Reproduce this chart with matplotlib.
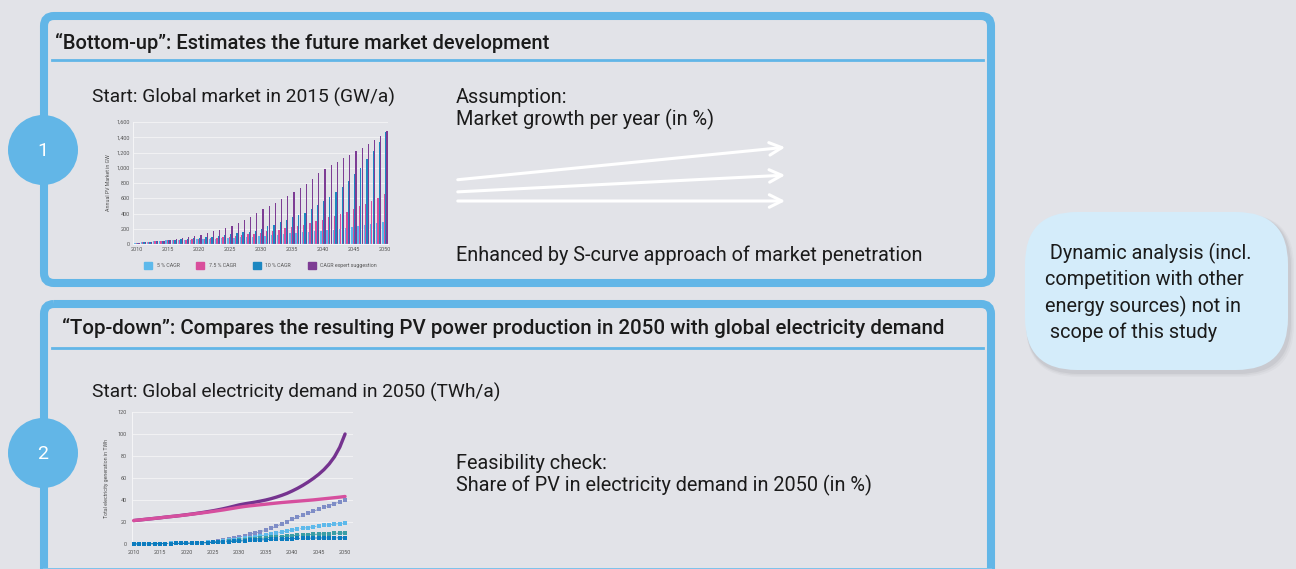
import numpy as np
import matplotlib
matplotlib.use("Agg")
import matplotlib.pyplot as plt
from matplotlib.patches import FancyBboxPatch, Circle, Patch

plt.rcParams['font.family'] = ['Roboto', 'DejaVu Sans']

# ---- data: bottom-up bar chart (annual PV market, GW) ----
years = list(range(2010, 2051))
cagr_5 = [17, 30, 30, 38, 45, 50, 51, 53, 55, 58, 60, 63, 66, 70, 74, 78, 82, 87, 92, 98,
          104, 110, 118, 124, 130, 138, 145, 152, 160, 168, 175, 182, 190, 200, 212, 222,
          238, 248, 260, 275, 292]
cagr_75 = [17, 30, 30, 38, 45, 50, 52, 55, 58, 62, 66, 70, 76, 82, 88, 95, 105, 115, 125, 135,
           150, 165, 175, 190, 205, 225, 240, 255, 280, 300, 320, 350, 370, 400, 425, 455,
           495, 530, 570, 607, 650]
cagr_10 = [17, 30, 30, 38, 45, 50, 55, 60, 66, 73, 80, 88, 97, 107, 118, 128, 140, 152, 162, 171,
           201, 236, 254, 293, 315, 350, 381, 412, 460, 512, 569, 622, 683, 749, 832, 915,
           1003, 1112, 1222, 1340, 1472]
cagr_expert = [17, 30, 30, 38, 45, 50, 60, 75, 90, 105, 120, 140, 165, 185, 210, 240, 270, 310,
               355, 410, 460, 500, 540, 585, 630, 680, 735, 790, 855, 925, 990, 1040, 1080,
               1125, 1170, 1215, 1260, 1306, 1360, 1418, 1478]
bar_series = ["5 % CAGR", "7.5 % CAGR", "10 % CAGR", "CAGR expert suggestion"]

# ---- data: top-down line chart (TWh) ----
demand_pink = [21.3, 21.8, 22.3, 22.8, 23.3, 23.8, 24.4, 24.9, 25.4, 25.9,
               26.5, 27.1, 27.7, 28.3, 28.9, 29.6, 30.3, 31.0, 31.8, 32.6,
               33.4, 34.1, 34.7, 35.2, 35.7, 36.2, 36.7, 37.2, 37.7, 38.1,
               38.5, 38.9, 39.3, 39.7, 40.1, 40.6, 41.1, 41.6, 42.1, 42.6, 43.2]
demand_purple = [21.3, 21.8, 22.3, 22.8, 23.3, 23.8, 24.4, 24.9, 25.4, 26.0,
                 26.6, 27.2, 27.9, 28.6, 29.4, 30.2, 31.1, 32.1, 33.2, 34.4,
                 35.6, 36.5, 37.3, 38.1, 39.0, 40.0, 41.2, 42.6, 44.2, 46.0,
                 48.2, 50.6, 53.3, 56.3, 59.6, 63.3, 67.6, 72.8, 79.3, 88.0, 100.0]
pv_lavender = [0.1, 0.1, 0.2, 0.2, 0.3, 0.3, 0.4, 0.5, 0.6, 0.7,
               0.8, 0.9, 1.1, 1.3, 1.6, 2.0, 2.6, 3.3, 4.1, 5.1,
               6.3, 7.5, 8.8, 10.0, 11.3, 12.6, 14.3, 16.2, 18.2, 20.3,
               22.4, 24.3, 26.1, 27.9, 29.8, 31.6, 33.3, 35.0, 36.7, 38.4, 40.1]
pv_lightblue = [0.1, 0.1, 0.2, 0.2, 0.3, 0.3, 0.4, 0.5, 0.5, 0.6,
                0.7, 0.8, 1.0, 1.2, 1.5, 1.8, 2.2, 2.7, 3.2, 3.7,
                4.3, 5.1, 5.9, 6.6, 7.4, 8.2, 9.2, 10.1, 11.0, 11.9,
                12.8, 13.6, 14.3, 15.0, 15.7, 16.4, 17.0, 17.6, 18.1, 18.6, 19.1]
pv_teal = [0.1, 0.1, 0.2, 0.2, 0.3, 0.3, 0.4, 0.4, 0.5, 0.6,
           0.7, 0.8, 0.9, 1.1, 1.3, 1.6, 1.9, 2.2, 2.5, 2.8,
           3.2, 3.7, 4.2, 4.6, 5.1, 5.5, 6.0, 6.4, 6.8, 7.1,
           7.5, 7.8, 8.1, 8.4, 8.7, 9.0, 9.3, 9.5, 9.7, 9.9, 10.1]
pv_darkblue = [0.1, 0.1, 0.2, 0.2, 0.3, 0.3, 0.4, 0.4, 0.5, 0.5,
               0.6, 0.7, 0.8, 1.0, 1.2, 1.4, 1.6, 1.8, 2.0, 2.3,
               2.6, 2.9, 3.2, 3.5, 3.7, 3.9, 4.2, 4.4, 4.6, 4.8,
               5.0, 5.1, 5.2, 5.3, 5.4, 5.5, 5.5, 5.6, 5.6, 5.6, 5.6]

# ---- texts ----
header1 = "\u201cBottom-up\u201d: Estimates the future market development"
header2 = "\u201cTop-down\u201d: Compares the resulting PV power production in 2050 with global electricity demand"
callout_lines = [" Dynamic analysis (incl.", "competition with other", "energy sources) not in", " scope of this study"]

BG = "#E2E3E8"
BLUE = "#62B6E7"
TXT = "#1B1B1B"
W, H = 1296, 569
FS = 14.3

fig = plt.figure(figsize=(W / 100, H / 100), dpi=100)
fig.patch.set_facecolor(BG)

# full-figure canvas in pixel coordinates
cv = fig.add_axes([0, 0, 1, 1])
cv.set_xlim(0, W)
cv.set_ylim(H, 0)
cv.axis("off")
cv.set_facecolor(BG)

def px2fig(x0, y0, x1, y1):
    return [x0 / W, 1 - y1 / H, (x1 - x0) / W, (y1 - y0) / H]

# two framed boxes (second one runs off the bottom edge)
for (y0, y1) in [(16, 283), (304, 620)]:
    cv.add_patch(FancyBboxPatch((44, y0), 947, y1 - y0, boxstyle="round,pad=0,rounding_size=10",
                                fc="none", ec=BLUE, lw=5.8, zorder=2))
cv.plot([44, 991], [568.6, 568.6], color="#7DC3EC", lw=1.4, zorder=2)
# header lines + texts
cv.plot([52, 983], [60, 60], color=BLUE, lw=2, zorder=3)
cv.plot([52, 983], [348, 348], color=BLUE, lw=2, zorder=3)
cv.text(55, 43, header1, fontsize=14.5, fontweight="medium", color=TXT, va="center", ha="left")
cv.text(62, 328, header2, fontsize=14.8, fontweight="medium", color=TXT, va="center", ha="left")

# step circles
for cy, lab in [(150, "1"), (453, "2")]:
    cv.add_patch(Circle((43, cy), 35, fc=BLUE, ec="none", zorder=4))
    cv.text(43, cy + 1, lab, fontsize=14, color="white", ha="center", va="center", zorder=5)

# texts inside boxes
cv.text(92, 97, "Start: Global market in 2015 (GW/a)", fontsize=13.8, color=TXT, va="center")
cv.text(456, 97, "Assumption:", fontsize=FS, color=TXT, va="center")
cv.text(456, 119, "Market growth per year (in %)", fontsize=FS, color=TXT, va="center")
cv.text(456, 255, "Enhanced by S-curve approach of market penetration", fontsize=FS, color=TXT, va="center")
cv.text(92, 392, "Start: Global electricity demand in 2050 (TWh/a)", fontsize=13.8, color=TXT, va="center")
cv.text(456, 463, "Feasibility check:", fontsize=FS, color=TXT, va="center")
cv.text(456, 485, "Share of PV in electricity demand in 2050 (in %)", fontsize=FS, color=TXT, va="center")

# growth arrows
for ys, ye in [(180, 147), (192, 175), (201, 201)]:
    cv.annotate("", xy=(788, ye), xytext=(455, ys),
                arrowprops=dict(arrowstyle="->,head_length=0.9,head_width=0.45", color="white", lw=2.2))

# callout bubble with soft shadow
for k, a in [(5, 0.06), (3.5, 0.08), (2, 0.12)]:
    cv.add_patch(FancyBboxPatch((1025 + 1, 212 + 2), 263 + k, 158 + k,
                                boxstyle="round,pad=0,rounding_size=52", fc="#808088", ec="none",
                                alpha=a, zorder=1))
cv.add_patch(FancyBboxPatch((1025, 212), 263, 158, boxstyle="round,pad=0,rounding_size=52",
                            fc="#D4ECFA", ec="none", zorder=2))
for i, line in enumerate(callout_lines):
    cv.text(1045, 253 + i * 26.5, line, fontsize=FS, color=TXT, va="center", ha="left", zorder=3)

# ---- bottom-up bar chart ----
ax1 = fig.add_axes(px2fig(133, 122, 388, 244))
ax1.set_facecolor("none")
x = np.array(years)
bw = 0.21
bar_colors = ["#5DB9EB", "#D94E9C", "#1C87C1", "#7D3C94"]
for i, (vals, col) in enumerate(zip([cagr_5, cagr_75, cagr_10, cagr_expert], bar_colors)):
    ax1.bar(x + (i - 1.5) * 0.22, vals, width=bw, color=col, linewidth=0, label=bar_series[i])
ax1.set_xlim(2009.35, 2050.5)
ax1.set_ylim(0, 1600)
ax1.set_yticks(range(0, 1601, 200))
ax1.set_yticklabels([f"{v:,}" for v in range(0, 1601, 200)])
ax1.set_xticks(range(2010, 2051, 5))
ax1.grid(axis="y", color="#F4F4F6", lw=0.6)
ax1.set_axisbelow(True)
for s in ["top", "right"]:
    ax1.spines[s].set_visible(False)
ax1.spines["left"].set_color("#F4F4F6")
ax1.spines["bottom"].set_color("#F4F4F6")
ax1.tick_params(labelsize=4, colors="#555555", length=0, pad=2)
ax1.set_ylabel("Annual PV Market in GW", fontsize=3.8, color="#555555", labelpad=4)
ax1.legend(handles=[Patch(color=c, label=l) for c, l in zip(bar_colors, bar_series)],
           ncol=4, loc="upper center", bbox_to_anchor=(0.5, -0.11), frameon=False,
           fontsize=3.8, handlelength=1.5, handleheight=1.5, columnspacing=3.2,
           labelcolor="#555555")

# ---- top-down line chart ----
ax2 = fig.add_axes(px2fig(132, 412, 353, 544))
ax2.set_facecolor("none")
ax2.plot(years, demand_pink, color="#D64F9E", lw=2.4, solid_capstyle="round", zorder=3)
ax2.plot(years, demand_purple, color="#75338F", lw=2.4, solid_capstyle="round", zorder=2)
for vals, col in [(pv_lavender, "#7F8DC6"), (pv_lightblue, "#5DB9EB"),
                  (pv_teal, "#3A9EA6"), (pv_darkblue, "#0B7CBF")]:
    ax2.plot(years, vals, color=col, lw=0.6, ls="--", marker="s", ms=2.2, mew=0, clip_on=False, zorder=4)
ax2.set_xlim(2009.7, 2051.5)
ax2.set_ylim(0, 120)
ax2.set_yticks(range(0, 121, 20))
ax2.set_xticks(range(2010, 2051, 5))
ax2.grid(axis="y", color="#F4F4F6", lw=0.6)
ax2.set_axisbelow(True)
for s in ["top", "right", "bottom"]:
    ax2.spines[s].set_visible(False)
ax2.spines["left"].set_color("#F4F4F6")
ax2.tick_params(labelsize=4, colors="#555555", length=0, pad=4)
ax2.set_ylabel("Total electricity generation in TWh", fontsize=3.8, color="#555555", labelpad=6)

fig.savefig("out.png", dpi=100, facecolor=BG)
